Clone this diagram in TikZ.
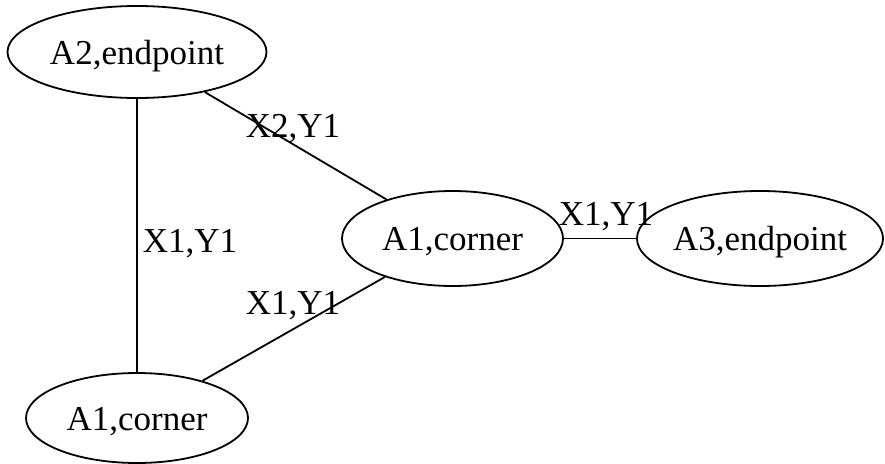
\documentclass[tikz,border=0pt]{standalone}
\usepackage{fontspec}
\setmainfont{Liberation Serif}
\usetikzlibrary{shapes.geometric}
\begin{document}
\begin{tikzpicture}[x=1pt,y=-1pt,
  state/.style={draw=black,line width=1.8pt,ellipse,inner sep=0pt,text height=24pt,text depth=0pt,font=\fontsize{35}{40}\selectfont},
  conn/.style={draw=black,line width=1.8pt},
  elabel/.style={inner sep=0pt,text height=24pt,text depth=0pt,font=\fontsize{35}{40}\selectfont}]
\useasboundingbox (0,0) rectangle (885,463);
\node[state,minimum width=259pt,minimum height=92pt] (a2) at (137,52) {A2,endpoint};
\node[state,minimum width=221pt,minimum height=95pt] (m) at (452.5,238.5) {A1,corner};
\node[state,minimum width=244pt,minimum height=95pt] (a3) at (760,238.5) {A3,endpoint};
\node[state,minimum width=222pt,minimum height=90pt] (b) at (137,418) {A1,corner};
\draw[conn] (a2) -- (b);
\draw[conn] (a2) -- (m);
\draw[conn] (m) -- (b);
\draw[conn] (m) -- (a3);
\node[elabel] (l1) at (190,240) {X1,Y1};
\node[elabel] (l2) at (293,125) {X2,Y1};
\node[elabel] (l3) at (293,302) {X1,Y1};
\node[elabel] (l4) at (606,213) {X1,Y1};
\end{tikzpicture}
\end{document}
